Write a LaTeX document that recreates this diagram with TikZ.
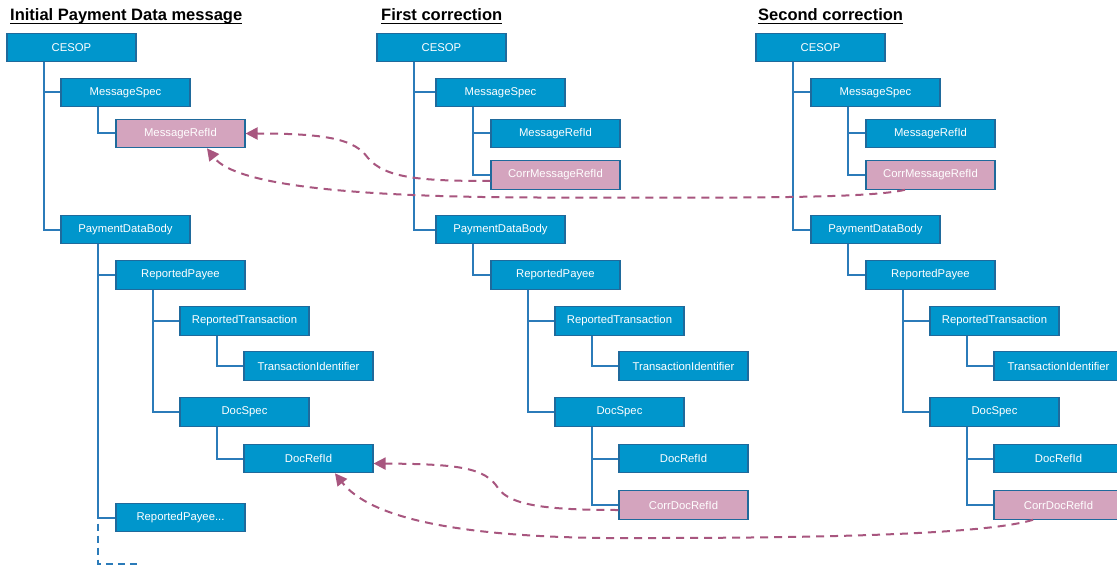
\documentclass[tikz,border=0pt]{standalone}
\usepackage{fontspec}
\setmainfont{Liberation Sans}
\usetikzlibrary{arrows.meta,calc}
\definecolor{boxblue}{HTML}{0096CC}
\definecolor{boxedge}{HTML}{1F6A9C}
\definecolor{linkblue}{HTML}{2B7BB9}
\definecolor{corrpink}{HTML}{D4A4BE}
\definecolor{refarrow}{HTML}{A8567F}
\begin{document}
\begin{tikzpicture}[x=1pt,y=-1pt,
  elem/.style={draw=boxedge, line width=1.1pt, fill=boxblue, text=white,
    minimum width=129pt, minimum height=28.5pt, inner sep=0pt,
    font=\fontsize{11.3}{13}\selectfont},
  corr/.style={elem, fill=corrpink},
  title/.style={anchor=base west, inner sep=0pt, font=\bfseries\fontsize{16.5}{19}\selectfont},
  tree/.style={draw=linkblue, line width=2pt},
  treedash/.style={tree, dash pattern=on 7pt off 5pt},
  arr/.style={draw=refarrow, line width=2pt, dash pattern=on 8pt off 6pt,
    -{Triangle[length=12pt,width=12pt]}}]
\clip (0,0) rectangle (1117,567);
\fill[white] (0,0) rectangle (1117,567);

% titles
\node[title] (t1) at (10,21) {Initial Payment Data message};
\node[title] (t2) at (381,21) {First correction};
\node[title] (t3) at (758,21) {Second correction};
\foreach \t in {t1,t2,t3}
  \draw[line width=1.3pt] ($(\t.base west)+(0,2.6)$) -- ($(\t.base east)+(0,2.6)$);

% left tree
\node[elem] (lcesop) at (71.5,47.5) {CESOP};
\node[elem] (lms) at (125.5,92.5) {MessageSpec};
\node[corr] (lmr) at (180.5,133.5) {MessageRefId};
\node[elem] (lpdb) at (125.5,229.5) {PaymentDataBody};
\node[elem] (lrp) at (180.5,275) {ReportedPayee};
\node[elem] (lrt) at (244.5,321) {ReportedTransaction};
\node[elem] (lti) at (308.5,366) {TransactionIdentifier};
\node[elem] (lds) at (244.5,412) {DocSpec};
\node[elem] (ldr) at (308.5,458.5) {DocRefId};
\node[elem] (lrpx) at (180.5,517.5) {ReportedPayee...};

% middle tree
\node[elem] (mcesop) at (441.5,47.5) {CESOP};
\node[elem] (mms) at (500.5,92.5) {MessageSpec};
\node[elem] (mmr) at (555.5,133.5) {MessageRefId};
\node[corr] (mcmr) at (555.5,175) {CorrMessageRefId};
\node[elem] (mpdb) at (500.5,229.5) {PaymentDataBody};
\node[elem] (mrp) at (555.5,275) {ReportedPayee};
\node[elem] (mrt) at (619.5,321) {ReportedTransaction};
\node[elem] (mti) at (683.5,366) {TransactionIdentifier};
\node[elem] (mds) at (619.5,412) {DocSpec};
\node[elem] (mdr) at (683.5,458.5) {DocRefId};
\node[corr] (mcdr) at (683.5,505) {CorrDocRefId};

% right tree
\node[elem] (rcesop) at (820.5,47.5) {CESOP};
\node[elem] (rms) at (875.5,92.5) {MessageSpec};
\node[elem] (rmr) at (930.5,133.5) {MessageRefId};
\node[corr] (rcmr) at (930.5,175) {CorrMessageRefId};
\node[elem] (rpdb) at (875.5,229.5) {PaymentDataBody};
\node[elem] (rrp) at (930.5,275) {ReportedPayee};
\node[elem] (rrt) at (994.5,321) {ReportedTransaction};
\node[elem] (rti) at (1058.5,366) {TransactionIdentifier};
\node[elem] (rds) at (994.5,412) {DocSpec};
\node[elem] (rdr) at (1058.5,458.5) {DocRefId};
\node[corr] (rcdr) at (1058.5,505) {CorrDocRefId};

% tree connectors
\foreach \p/\c in {lcesop/lms, lcesop/lpdb, lms/lmr, lpdb/lrp, lpdb/lrpx, lrp/lrt, lrp/lds, lrt/lti, lds/ldr,
  mcesop/mms, mcesop/mpdb, mms/mmr, mms/mcmr, mpdb/mrp, mrp/mrt, mrp/mds, mrt/mti, mds/mdr, mds/mcdr,
  rcesop/rms, rcesop/rpdb, rms/rmr, rms/rcmr, rpdb/rrp, rrp/rrt, rrp/rds, rrt/rti, rds/rdr, rds/rcdr}
  \draw[tree] ($(\p.south west)+(38,0)$) |- (\c.west);

% continuation of the left tree
\coordinate (ltrunk) at ($(lpdb.south west)+(38,0)$);
\coordinate (lend) at (137,564);
\draw[treedash] ($(lrpx.west -| ltrunk)+(0,6)$) |- (lend);

% reference arrows
\draw[arr] ($(mcmr.west)+(0,6)$) .. controls (420,181) and (385,178) .. (368,158)
  .. controls (355,140) and (330,133.5) .. (lmr.east);
\draw[arr] ($(rcmr.south)+(-25.5,0)$) .. controls (870,198) and (760,198) .. (560,197.5)
  .. controls (350,198) and (235,185) .. ($(lmr.south)+(26.5,0)$);
\draw[arr] ($(mcdr.west)+(0,5)$) .. controls (550,510) and (510,506) .. (498,488)
  .. controls (485,468) and (460,464) .. ($(ldr.east)+(0,5)$);
\draw[arr] ($(rcdr.south)+(-25.5,0)$) .. controls (1000,530) and (900,538) .. (650,538)
  .. controls (460,540) and (370,518) .. ($(ldr.south)+(26.5,0)$);
\end{tikzpicture}
\end{document}
